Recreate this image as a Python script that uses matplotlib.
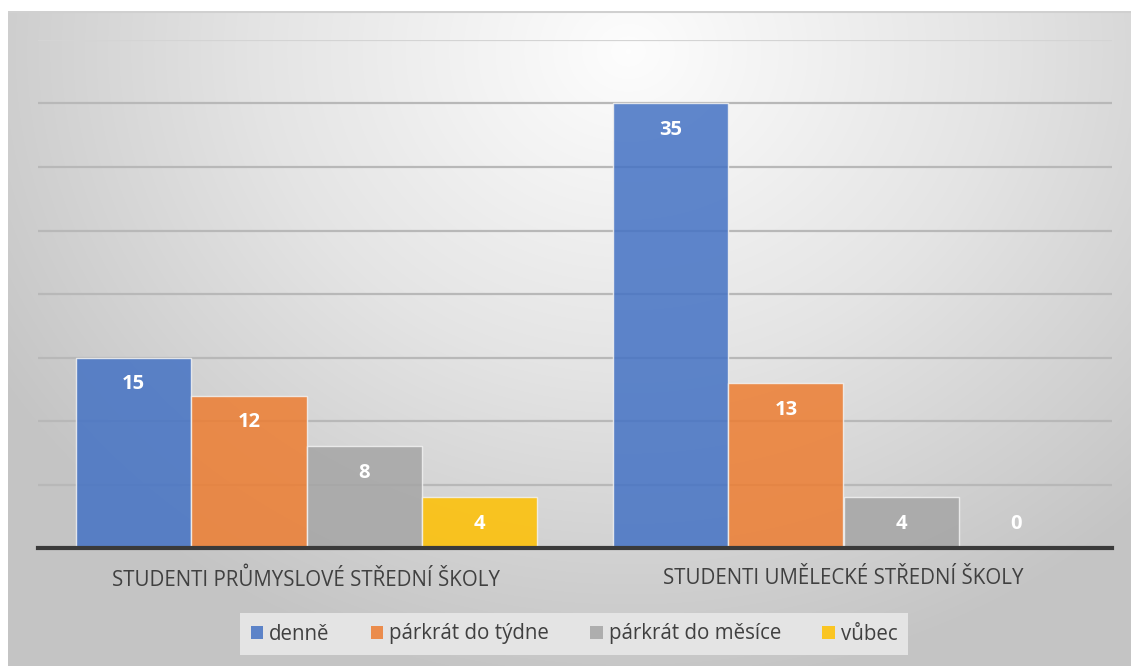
import numpy as np
import matplotlib
matplotlib.use("Agg")
import matplotlib.pyplot as plt
from matplotlib.colors import LinearSegmentedColormap

plt.rcParams['font.family'] = ['Open Sans', 'DejaVu Sans']

categories = ["STUDENTI PRŮMYSLOVÉ STŘEDNÍ ŠKOLY", "STUDENTI UMĚLECKÉ STŘEDNÍ ŠKOLY"]
series = ["denně", "párkrát do týdne", "párkrát do měsíce", "vůbec"]
values = {
    "denně": [15, 35],
    "párkrát do týdne": [12, 13],
    "párkrát do měsíce": [8, 4],
    "vůbec": [4, 0],
}
colors = ["#4472C4", "#ED7D31", "#A5A5A5", "#FFC000"]

W, H = 1131, 666
fig = plt.figure(figsize=(W / 100, H / 100), dpi=100)
fig.patch.set_facecolor("white")

# radial gradient background of the chart area
bg = fig.add_axes([8 / W, 0, 1 - 8 / W, 1 - 11 / H], zorder=0)
yy, xx = np.mgrid[0:655, 0:1123]
d = np.sqrt(((xx - 620) / 1.0) ** 2 + ((yy - 40) * 1.15) ** 2)
d = np.clip(d / 740, 0, 1)
cmap = LinearSegmentedColormap.from_list("bg", ["#fdfdfd", "#e4e4e4", "#c4c4c4"])
bg.imshow(d, cmap=cmap, aspect="auto", interpolation="bilinear", vmin=0, vmax=1)
bg.plot([0, 1122], [0.5, 0.5], color="#d0d0d0", lw=1.5)
bg.set_xlim(-0.5, 1122.5)
bg.set_ylim(654.5, -0.5)
bg.axis("off")

# plot area
x0, x1 = 38, 1112
y0, y1 = 548, 40
ax = fig.add_axes([x0 / W, 1 - y0 / H, (x1 - x0) / W, (y0 - y1) / H], zorder=1)
ax.patch.set_alpha(0)

n = len(series)
bw = 0.2145
x = np.arange(len(categories))
for i, (s, c) in enumerate(zip(series, colors)):
    pos = x + (i - (n - 1) / 2) * bw
    bars = ax.bar(pos, values[s], width=bw, color=c, alpha=0.85,
                  edgecolor="#f2f2f2", linewidth=1.0, zorder=3, label=s)
    for b, v in zip(bars, values[s]):
        ty = v - 2.1 if v >= 3 else 1.9
        ax.text(b.get_x() + b.get_width() / 2, ty, str(v), ha="center", va="center",
                color="white", fontsize=14.5, fontweight="bold", zorder=4)

ax.set_xlim(-0.5, 1.5)
ax.set_ylim(0, 40)
ax.set_yticks(np.arange(5, 45, 5))
ax.yaxis.grid(True, color="#b8b8b8", linewidth=1.6, zorder=1)
ax.get_ygridlines()[-1].set_color("#d4d4d4")
ax.set_axisbelow(True)
ax.tick_params(axis="y", left=False, labelleft=False)
ax.tick_params(axis="x", bottom=False, pad=11)
ax.set_xticks(x)
ax.set_xticklabels(categories, fontsize=14.8, color="#404040")
for sp in ["top", "right", "left"]:
    ax.spines[sp].set_visible(False)
ax.spines["bottom"].set_color("#3a3a3a")
ax.spines["bottom"].set_linewidth(3)
ax.spines["bottom"].set_zorder(5)

leg = fig.legend(loc="center", bbox_to_anchor=(574 / W, 1 - 634 / H), ncol=4,
                 frameon=True, fontsize=14.8, handlelength=0.6, handleheight=0.6,
                 handletextpad=0.3, columnspacing=2.0, borderpad=0.5,
                 borderaxespad=0, fancybox=False)
leg.get_frame().set_facecolor("#e4e4e4")
leg.get_frame().set_edgecolor("none")
leg.get_frame().set_alpha(1)
for t in leg.get_texts():
    t.set_color("#404040")
for h in leg.legend_handles:
    h.set_alpha(0.85)
    h.set_edgecolor("none")

fig.savefig("out.png", dpi=100)
